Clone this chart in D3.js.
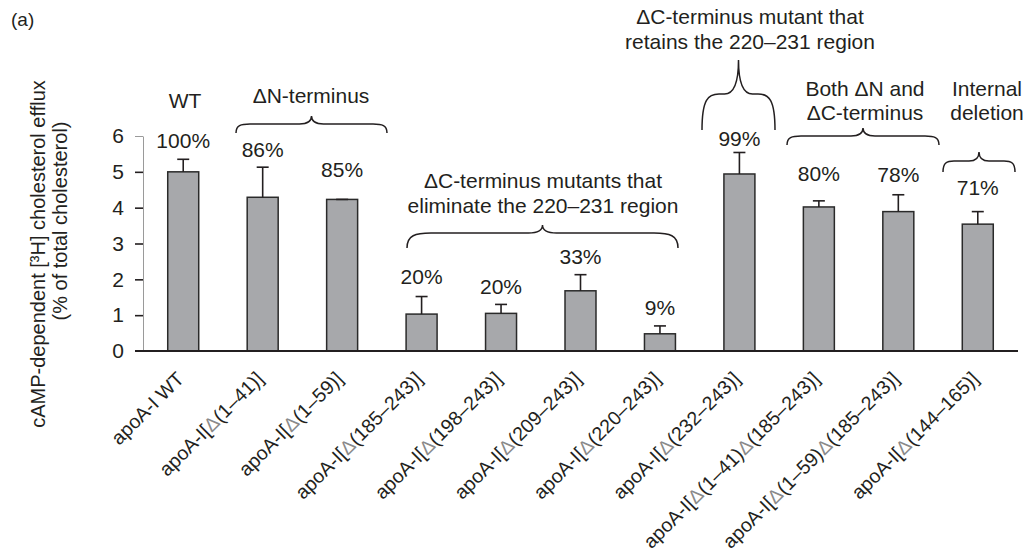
<!DOCTYPE html>
<html>
<head>
<meta charset="utf-8">
<script src="https://cdn.jsdelivr.net/npm/d3@7"></script>
<style>
  body { margin: 0; background: #fff; }
  svg { display: block; font-family: "Liberation Sans", Arial, Helvetica, sans-serif; }
</style>
</head>
<body>
<svg id="chart" width="1024" height="558"></svg>
<script>
// ---- data ----
const categories = [
  "apoA-I WT",
  "apoA-I[Δ(1–41)]",
  "apoA-I[Δ(1–59)]",
  "apoA-I[Δ(185–243)]",
  "apoA-I[Δ(198–243)]",
  "apoA-I[Δ(209–243)]",
  "apoA-I[Δ(220–243)]",
  "apoA-I[Δ(232–243)]",
  "apoA-I[Δ(1–41)Δ(185–243)]",
  "apoA-I[Δ(1–59)Δ(185–243)]",
  "apoA-I[Δ(144–165)]"
];
const efflux = [5.00, 4.29, 4.23, 1.03, 1.05, 1.68, 0.48, 4.94, 4.02, 3.89, 3.54];
const errors = [0.35, 0.84, 0.00, 0.49, 0.25, 0.45, 0.22, 0.60, 0.17, 0.47, 0.35];
const percentOfWT = ["100%", "86%", "85%", "20%", "20%", "33%", "9%", "99%", "80%", "78%", "71%"];
const yTicks = [0, 1, 2, 3, 4, 5, 6];
const yTitleLines = ["cAMP-dependent [³H] cholesterol efflux", "(% of total cholesterol)"];

// group annotations: text lines above each group of constructs
const groupLines = [
  ["WT"],
  ["ΔN-terminus"],
  ["ΔC-terminus mutants that", "eliminate the 220–231 region"],
  ["ΔC-terminus mutant that", "retains the 220–231 region"],
  ["Both ΔN and", "ΔC-terminus"],
  ["Internal", "deletion"]
];

// ---- layout ----
const baseY = 351, topY = 136;
const ink = "#231f20";
const fontSize = 21;
// vertical gap (px) between each error-bar top and its percentage label
const labelGap = [11, 10, 22, 13, 10, 11, 11, 6, 20, 13, 17];
// y-title lines: baseline x and vertical centre of each line
const titleLineX = [45, 67];
const titleLineY = [254, 221];
// annotation placement: text centre x, first baseline, line step,
// brace [x1, x2, tipY, shoulderY, peakY, endCurl, midCurl]
const groupLayout = [
  { x: 185, y: 108, step: 0, brace: null },
  { x: 311, y: 103, step: 0, brace: [236, 387, 133, 124, 116, 14, 12] },
  { x: 543, y: 188, step: 25, brace: [407, 678, 248, 233, 225, 24, 14] },
  { x: 750, y: 24, step: 25, brace: [702, 775, 130, 94, 60, 17, 14] },
  { x: 865, y: 96, step: 24, brace: [787, 939, 145, 136, 128, 14, 12] },
  { x: 987, y: 96, step: 24, brace: [943, 1015, 172, 161, 152, 11, 10] }
];

const svg = d3.select("#chart");

const x = d3.scaleBand()
  .domain(categories)
  .range([143.5, 1017.5])
  .paddingInner(0.61)
  .paddingOuter(0.305);

const y = d3.scaleLinear().domain([0, 6]).range([baseY, topY]);

// panel tag
svg.append("text")
  .attr("x", 11).attr("y", 26)
  .attr("font-size", 19).attr("fill", ink)
  .text("(a)");

// y axis
const yAxis = d3.axisLeft(y)
  .tickValues(yTicks.slice(1))
  .tickFormat(d3.format("d"))
  .tickSize(8).tickSizeOuter(0).tickPadding(11);
const gy = svg.append("g").attr("transform", "translate(143,0)").call(yAxis);
gy.select(".domain").attr("stroke", "#9a9a9a").attr("stroke-width", 1);
gy.selectAll(".tick line")
  .attr("stroke", d => d === 6 ? "#9a9a9a" : ink)
  .attr("stroke-width", d => d === 6 ? 1 : 1.6);
gy.selectAll(".tick text")
  .attr("font-size", fontSize).attr("fill", ink)
  .attr("font-family", "Liberation Sans, Arial, sans-serif");
// zero label sits beside the baseline
svg.append("text")
  .attr("x", 124).attr("y", y(0)).attr("dy", "0.32em")
  .attr("text-anchor", "end").attr("font-size", fontSize).attr("fill", ink)
  .text(yTicks[0]);

// y title (two rotated lines)
yTitleLines.forEach((t, i) => {
  svg.append("text")
    .attr("transform", `translate(${titleLineX[i]},${titleLineY[i]}) rotate(-90)`)
    .attr("text-anchor", "middle")
    .attr("font-size", 20).attr("fill", ink)
    .text(t);
});

// bars
svg.append("g").selectAll("rect")
  .data(categories)
  .join("rect")
  .attr("x", d => x(d))
  .attr("width", x.bandwidth())
  .attr("y", (d, i) => y(efflux[i]))
  .attr("height", (d, i) => y(0) - y(efflux[i]))
  .attr("fill", "#a7a8ab")
  .attr("stroke", "#2a2a2a")
  .attr("stroke-width", 1.5);

// error bars (upper only)
const eg = svg.append("g").attr("stroke", ink).attr("stroke-width", 1.6);
categories.forEach((c, i) => {
  const cx = x(c) + x.bandwidth() / 2;
  const y0 = y(efflux[i]), y1 = y(efflux[i] + errors[i]);
  eg.append("line").attr("x1", cx).attr("x2", cx).attr("y1", y0).attr("y2", y1);
  eg.append("line").attr("x1", cx - 6).attr("x2", cx + 6).attr("y1", y1).attr("y2", y1);
});

// baseline
svg.append("line")
  .attr("x1", 135).attr("x2", 1018)
  .attr("y1", y(0)).attr("y2", y(0))
  .attr("stroke", ink).attr("stroke-width", 2.2);

// percentage labels
svg.append("g").selectAll("text")
  .data(categories)
  .join("text")
  .attr("x", d => x(d) + x.bandwidth() / 2)
  .attr("y", (d, i) => y(efflux[i] + errors[i]) - labelGap[i])
  .attr("text-anchor", "middle")
  .attr("font-size", fontSize).attr("fill", ink)
  .text((d, i) => percentOfWT[i]);

// rotated category labels, the Δ drawn in a lighter tone
const xl = svg.append("g").selectAll("text")
  .data(categories)
  .join("text")
  .attr("transform", d => `translate(${x(d) + x.bandwidth() / 2 + 2},${baseY + 29}) rotate(-45)`)
  .attr("text-anchor", "end")
  .attr("font-size", 19.5).attr("fill", ink);
xl.each(function (d) {
  const t = d3.select(this);
  d.split(/(Δ)/).filter(s => s.length).forEach(s => {
    t.append("tspan").attr("fill", s === "Δ" ? "#8a8a8a" : ink).text(s);
  });
});

// curly brace: tips curl up to a shoulder line, then both halves meet at a point
function bracePath(x1, x2, tipY, a, peakY, r1, r2) {
  const mx = (x1 + x2) / 2;
  const half = (sx, dir) => {
    const e = sx + dir * r1, m = mx - dir * r2;
    return `M${sx},${tipY}` +
      ` C${sx},${a + (tipY - a) * 0.15} ${sx + dir * r1 * 0.35},${a} ${e},${a}` +
      ` L${m},${a}` +
      ` C${mx - dir * r2 * 0.35},${a} ${mx},${a - (a - peakY) * 0.35} ${mx},${peakY}`;
  };
  return half(x1, 1) + " " + half(x2, -1);
}

const ag = svg.append("g");
groupLines.forEach((lines, gi) => {
  const L = groupLayout[gi];
  lines.forEach((t, li) => {
    ag.append("text")
      .attr("x", L.x).attr("y", L.y + li * L.step)
      .attr("text-anchor", "middle")
      .attr("font-size", fontSize).attr("fill", ink)
      .text(t);
  });
  if (L.brace) {
    ag.append("path")
      .attr("d", bracePath(...L.brace))
      .attr("fill", "none").attr("stroke", ink).attr("stroke-width", 1.5);
  }
});
</script>
</body>
</html>
